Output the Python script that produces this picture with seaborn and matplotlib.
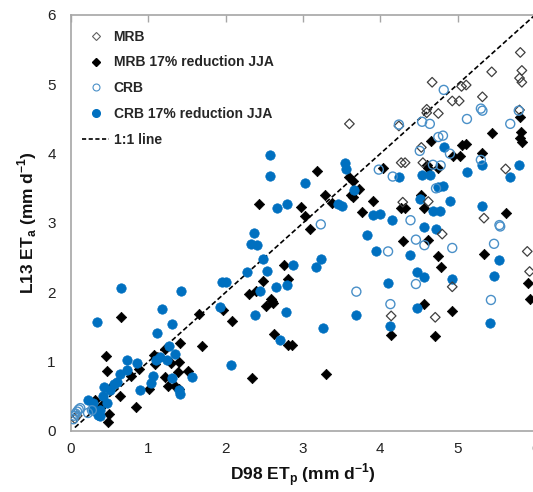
import matplotlib
matplotlib.use("Agg")
import matplotlib.pyplot as plt
import seaborn as sns
import pandas as pd
from matplotlib.lines import Line2D

sns.set_theme(style="white")
plt.rcParams['font.family'] = ['Liberation Sans', 'DejaVu Sans']
plt.rcParams['mathtext.fontset'] = 'custom'
plt.rcParams['mathtext.rm'] = 'Liberation Sans'
plt.rcParams['mathtext.bf'] = 'Liberation Sans:bold'

# ---- data ----
mrb_x = [3.60, 4.24, 4.27, 4.32, 4.53, 4.55, 4.60, 4.60, 4.67, 4.75, 4.93, 5.02, 5.05, 5.11, 5.32,
         5.44, 5.62, 5.80, 5.81, 5.83, 5.80, 5.83, 4.29, 4.62, 5.34, 4.80, 5.90, 5.93, 4.93, 4.14,
         4.71, 0.05, 0.08]
mrb_y = [4.43, 4.40, 3.87, 3.87, 4.09, 3.87, 4.64, 4.59, 5.03, 4.58, 4.76, 4.76, 4.97, 4.99, 4.82,
         5.18, 3.78, 4.63, 5.46, 5.20, 5.09, 5.03, 3.30, 3.31, 3.07, 2.84, 2.59, 2.30, 2.08, 1.66,
         1.64, 0.18, 0.22]

mrb17_x = [0.45, 0.46, 0.65, 0.53, 0.63, 0.78, 0.88, 0.84, 0.49, 0.48, 0.31, 0.37, 0.40, 1.01, 1.07,
           1.09, 1.21, 1.22, 1.26, 1.34, 1.29, 1.41, 1.40, 1.38, 1.40, 1.51, 1.65, 1.70, 1.96, 2.08,
           2.30, 2.39, 2.48, 2.52, 2.60, 2.61, 2.63, 2.81, 2.86, 2.34, 3.30, 2.59, 2.76, 2.81, 2.43,
           2.97, 3.03, 3.09, 3.18, 3.28, 3.37, 3.60, 3.65, 3.72, 3.62, 3.65, 3.76, 3.90, 4.03, 4.53,
           4.27, 4.32, 4.56, 5.62, 4.29, 4.62, 4.75, 5.34, 4.79, 5.91, 5.93, 4.56, 4.93, 4.14, 4.71,
           4.60, 4.62, 4.75, 4.66, 5.06, 5.11, 4.94, 5.03, 5.31, 5.44, 5.81, 5.82, 5.80, 5.83]
mrb17_y = [1.08, 0.87, 1.65, 0.65, 0.50, 0.80, 0.90, 0.34, 0.24, 0.13, 0.45, 0.33, 0.38, 0.61, 1.10,
           0.97, 1.18, 0.78, 0.65, 0.65, 0.98, 1.27, 1.00, 0.85, 0.60, 0.87, 1.69, 1.22, 1.74, 1.59,
           1.97, 2.02, 2.16, 1.80, 1.87, 1.84, 1.40, 1.24, 1.24, 0.76, 0.82, 1.90, 2.39, 2.19, 3.28,
           3.23, 3.10, 2.91, 3.75, 3.40, 3.29, 3.67, 3.60, 3.49, 3.41, 3.37, 3.16, 3.32, 3.80, 3.41,
           3.21, 3.21, 3.21, 3.14, 2.74, 2.75, 2.53, 2.55, 2.36, 2.14, 1.91, 1.83, 1.73, 1.38, 1.37,
           3.84, 3.79, 3.80, 4.18, 4.12, 4.14, 3.96, 3.96, 4.01, 4.30, 4.53, 4.31, 4.23, 4.17]

crb_x = [0.03, 0.04, 0.06, 0.08, 0.10, 0.12, 0.22, 0.27, 3.23, 3.69, 3.98, 4.16, 4.24, 4.54, 4.64,
         4.82, 5.12, 5.30, 5.32, 5.68, 5.79, 4.75, 4.81, 4.51, 4.90, 4.68, 4.78, 5.30, 4.72, 4.39,
         5.54, 5.55, 4.46, 4.57, 4.93, 4.10, 5.47, 4.46, 4.13, 5.43]
crb_y = [0.17, 0.22, 0.25, 0.28, 0.31, 0.33, 0.26, 0.30, 2.98, 2.01, 3.77, 3.67, 4.42, 4.46, 4.43,
         4.92, 4.50, 4.65, 4.62, 4.43, 4.62, 4.24, 4.26, 4.04, 4.00, 3.84, 3.83, 3.91, 3.50, 3.04,
         2.97, 2.95, 2.76, 2.68, 2.64, 2.59, 2.70, 2.12, 1.83, 1.89]

crb17_x = [0.33, 0.65, 1.42, 1.18, 1.30, 1.11, 1.27, 1.34, 1.15, 1.10, 1.24, 0.72, 0.85, 0.72, 0.64,
           0.60, 0.55, 0.43, 0.50, 0.89, 1.06, 1.04, 1.30, 1.57, 1.41, 1.40, 0.22, 0.29, 0.37, 0.37,
           0.35, 0.46, 0.42, 0.29, 1.93, 1.95, 2.00, 2.07, 2.38, 2.78, 3.26, 3.69, 2.70, 2.57, 2.57,
           3.02, 3.54, 3.56, 3.66, 2.66, 2.79, 3.45, 3.51, 2.36, 2.33, 2.40, 2.48, 2.27, 2.54, 2.87,
           3.23, 3.17, 2.65, 2.79, 2.45, 3.83, 3.94, 3.91, 3.99, 4.82, 5.31, 5.79, 4.24, 4.54, 4.64,
           5.12, 5.68, 4.75, 4.81, 4.51, 4.90, 5.31, 4.68, 4.77, 4.15, 4.56, 4.72, 4.39, 5.54, 4.47,
           4.57, 4.93, 5.47, 4.10, 4.47, 4.13, 5.42]
crb17_y = [1.57, 2.06, 2.02, 1.76, 1.55, 1.41, 1.23, 1.11, 1.07, 1.02, 1.02, 1.02, 0.98, 0.88, 0.82,
           0.71, 0.68, 0.64, 0.59, 0.59, 0.79, 0.69, 0.77, 0.78, 0.53, 0.59, 0.45, 0.40, 0.30, 0.21,
           0.23, 0.40, 0.50, 0.30, 1.79, 2.15, 2.15, 0.95, 1.67, 1.71, 1.49, 1.67, 1.31, 3.98, 3.68,
           3.57, 3.86, 3.78, 3.47, 3.21, 3.28, 3.28, 3.25, 2.85, 2.69, 2.68, 2.48, 2.30, 2.31, 2.40,
           2.48, 2.36, 2.08, 2.11, 2.02, 2.82, 2.60, 3.12, 3.13, 4.09, 3.84, 3.83, 3.67, 3.69, 3.69,
           3.73, 3.67, 3.52, 3.54, 3.34, 3.32, 3.25, 3.18, 3.18, 3.04, 2.94, 2.91, 2.54, 2.47, 2.29,
           2.22, 2.19, 2.24, 2.14, 1.78, 1.52, 1.56]

line_x = [0.05, 6.0]
line_y = [0.05, 6.0]

labels = ["MRB", "MRB 17% reduction JJA", "CRB", "CRB 17% reduction JJA", "1:1 line"]
x_ticks = [0, 1, 2, 3, 4, 5, 6]
y_ticks = [0, 1, 2, 3, 4, 5, 6]

BLUE = "#0070C0"
LBLUE = "#4A90C8"
GRAY = "#A6A6A6"

fig = plt.figure(figsize=(5.33, 4.92), dpi=100)
ax = fig.add_axes([71 / 533, 61 / 492, 464 / 533, 416 / 492])

sns.lineplot(x=line_x, y=line_y, ax=ax, color="black", lw=1.2, linestyle="--")
ax.lines[-1].set_dashes((3, 1.6))

sns.scatterplot(x=mrb17_x, y=mrb17_y, ax=ax, marker="D", s=28, color="black", edgecolor="black",
                linewidth=0.5, zorder=3)
sns.scatterplot(x=crb17_x, y=crb17_y, ax=ax, marker="o", s=46, color=BLUE, edgecolor=BLUE,
                linewidth=0.5, zorder=3)
sns.scatterplot(x=mrb_x, y=mrb_y, ax=ax, marker="D", s=24, facecolor="none", edgecolor="#404040",
                linewidth=0.9, zorder=4)
sns.scatterplot(x=crb_x, y=crb_y, ax=ax, marker="o", s=42, facecolor="none", edgecolor=LBLUE,
                linewidth=1.0, zorder=4)

ax.set_xlim(0, 6)
ax.set_ylim(0, 6)
ax.set_xticks(x_ticks)
ax.set_yticks(y_ticks)
ax.tick_params(axis="y", direction="out", length=5, color=GRAY, width=1, labelsize=11, pad=6,
               labelcolor="#222222")
ax.tick_params(axis="x", direction="in", length=5, color=GRAY, width=1, labelsize=11, pad=8,
               top=True, labelcolor="#222222")
ax.tick_params(axis="y", right=True, which="both")
ax.grid(False)
for sp in ax.spines.values():
    sp.set_color(GRAY)
    sp.set_linewidth(1.2)

ax.set_xlabel(r"D98 ET$_\mathbf{p}$ (mm d$^\mathbf{-1}$)", fontsize=12.5, fontweight="bold",
              labelpad=4, color="#111111")
ax.set_ylabel(r"L13 ET$_\mathbf{a}$ (mm d$^\mathbf{-1}$)", fontsize=12.5, fontweight="bold",
              labelpad=6, color="#111111")

handles = [
    Line2D([], [], marker="D", ls="none", mfc="none", mec="#606060", ms=4, mew=0.8),
    Line2D([], [], marker="D", ls="none", mfc="black", mec="black", ms=4),
    Line2D([], [], marker="o", ls="none", mfc="none", mec=LBLUE, ms=5, mew=0.8),
    Line2D([], [], marker="o", ls="none", mfc=BLUE, mec=BLUE, ms=5.5),
    Line2D([], [], color="black", ls=(0, (2.5, 1.5)), lw=1.2),
]
leg = ax.legend(handles, labels, loc="upper left", bbox_to_anchor=(0.005, 0.985), frameon=False,
                prop={"weight": "bold", "size": 10}, labelspacing=0.85, handlelength=2.0,
                handletextpad=0.3, borderaxespad=0.2)

fig.savefig("out.png", dpi=100)
